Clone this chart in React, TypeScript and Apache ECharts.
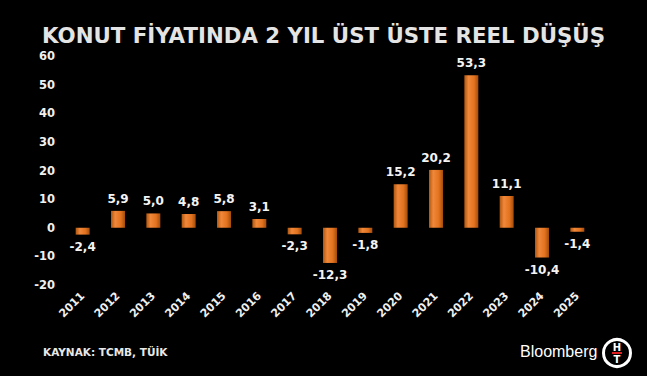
import React, { useEffect, useRef } from "react";
import * as echarts from "echarts";

const years = ["2011","2012","2013","2014","2015","2016","2017","2018","2019","2020","2021","2022","2023","2024","2025"];
const values = [-2.4, 5.9, 5.0, 4.8, 5.8, 3.1, -2.3, -12.3, -1.8, 15.2, 20.2, 53.3, 11.1, -10.4, -1.4];
const titleText = "KONUT FİYATINDA 2 YIL ÜST ÜSTE REEL DÜŞÜŞ";
const sourceText = "KAYNAK: TCMB, TÜİK";

export default function App() {
  const ref = useRef<HTMLDivElement>(null);
  useEffect(() => {
    document.body.style.margin = "0";
    document.body.style.background = "#000";
    const chart = echarts.init(ref.current!, null, { renderer: "svg" });
    const barColor = new echarts.graphic.LinearGradient(0, 0, 1, 0, [
      { offset: 0, color: "#b0560f" },
      { offset: 0.3, color: "#f0883a" },
      { offset: 0.7, color: "#e2721f" },
      { offset: 1, color: "#a34d0e" },
    ]);
    const fmt = (v: number) => v.toFixed(1).replace(".", ",");
    chart.setOption({
      animation: false,
      backgroundColor: "#000000",
      title: {
        text: titleText,
        left: "center",
        top: 20,
        textStyle: { color: "#e4e4e4", fontSize: 21.3, fontWeight: "bold", fontFamily: "DejaVu Sans" },
      },
      grid: { left: 65, right: 52, top: 56, bottom: 91 },
      xAxis: {
        type: "category",
        data: years,
        axisLine: { show: false },
        axisTick: { show: false },
        axisLabel: {
          rotate: 45,
          color: "#f0f0f0",
          fontSize: 11,
          fontWeight: "bold",
          fontFamily: "DejaVu Sans",
          margin: 9,
          interval: 0,
        },
      },
      yAxis: {
        type: "value",
        min: -20,
        max: 60,
        interval: 10,
        splitLine: { show: false },
        axisLine: { show: false },
        axisTick: { show: false },
        axisLabel: {
          color: "#f0f0f0",
          fontSize: 11.5,
          fontWeight: "bold",
          fontFamily: "DejaVu Sans",
          margin: 10,
        },
      },
      series: [
        {
          type: "bar",
          barWidth: 14,
          data: values.map((v) => ({
            value: v,
            label: { position: v < 0 ? "bottom" : "top" },
          })),
          itemStyle: { color: barColor },
          label: {
            show: true,
            color: "#f4f4f4",
            fontSize: 12,
            fontWeight: "bold",
            fontFamily: "DejaVu Sans",
            distance: 6,
            formatter: (p: any) => fmt(p.value),
          },
        },
      ],
      graphic: [
        {
          type: "text",
          left: 43,
          top: 346,
          style: { text: sourceText, fill: "#e8e8e8", fontSize: 10.5, fontWeight: "bold", fontFamily: "DejaVu Sans" },
        },
        {
          type: "text",
          left: 520,
          top: 343,
          style: { text: "Bloomberg", fill: "#ffffff", fontSize: 16, fontFamily: "Liberation Sans" },
        },
        {
          type: "group",
          left: 602,
          top: 338,
          children: [
            { type: "circle", shape: { cx: 15, cy: 15, r: 13.5 }, style: { fill: "#000", stroke: "#ffffff", lineWidth: 3 } },
            { type: "text", style: { text: "H", x: 15, y: 9, fill: "#fff", fontSize: 10, fontWeight: "bold", fontFamily: "DejaVu Sans", align: "center", verticalAlign: "middle" } },
            { type: "rect", shape: { x: 10, y: 14, width: 10, height: 2 }, style: { fill: "#e02020" } },
            { type: "text", style: { text: "T", x: 15, y: 21, fill: "#fff", fontSize: 10, fontWeight: "bold", fontFamily: "DejaVu Sans", align: "center", verticalAlign: "middle" } },
          ],
        },
      ],
    });
    return () => chart.dispose();
  }, []);
  return <div ref={ref} style={{ width: 647, height: 376 }} />;
}
